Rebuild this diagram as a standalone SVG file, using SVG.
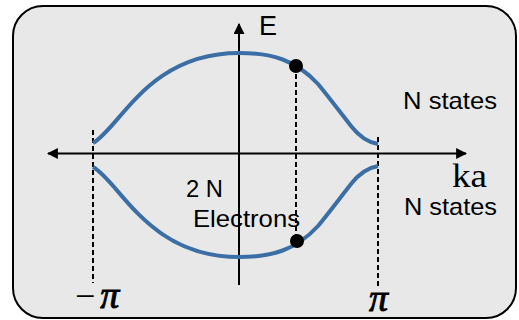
<svg xmlns="http://www.w3.org/2000/svg" width="519" height="320" viewBox="0 0 519 320">
<defs>
<marker id="arr" viewBox="0 0 10 10" refX="9" refY="5" markerWidth="11" markerHeight="11" markerUnits="userSpaceOnUse" orient="auto-start-reverse">
<path d="M0,0 L10,5 L0,10 Z" fill="#000"/>
</marker>
</defs>
<style>
.sans{font-family:"Liberation Sans",Arial,sans-serif;fill:#000}
.serif{font-family:"Liberation Serif","Times New Roman",serif;fill:#000}
.pi{font-style:italic;stroke:#000;stroke-width:0.9}
.band{fill:none;stroke:#3b6ea5;stroke-width:4}
.dash{stroke:#000;stroke-width:2;stroke-dasharray:5,3;fill:none}
.axis{stroke:#000;stroke-width:2;fill:none}
</style>
<rect x="13" y="6" width="503" height="312" rx="30" ry="30" fill="#e8e8e8" stroke="#000" stroke-width="2"/>
<g id="connectors">
<line class="axis" x1="48" y1="153.5" x2="466" y2="153.5" marker-start="url(#arr)" marker-end="url(#arr)"/>
<line class="axis" x1="239" y1="285" x2="239" y2="24" marker-end="url(#arr)"/>
<line class="dash" x1="93" y1="130" x2="93" y2="283"/>
<line class="dash" x1="378" y1="137" x2="378" y2="288"/>
<line class="dash" x1="296" y1="66" x2="296" y2="241"/>
</g>
<g id="upper-band">
<path class="band" d="M93,143 C120,128 148,53 239,53 C272,53 296,60 318,84 C328,96 340,112 351,126 C358,135 366,142 378,144"/>
</g>
<g id="lower-band">
<path class="band" d="M93,167 C120,182 148,257 239,257 C272,257 296,250 318,226 C328,214 340,198 351,184 C358,175 366,168 378,166"/>
</g>
<g id="dot-upper"><circle cx="296" cy="66" r="7" fill="#000"/></g>
<g id="dot-lower"><circle cx="297" cy="241" r="7" fill="#000"/></g>
<g id="label-E"><text class="sans" x="259" y="35" font-size="27">E</text></g>
<g id="label-ka"><text class="serif" x="452" y="187" font-size="34" textLength="35" lengthAdjust="spacingAndGlyphs">ka</text></g>
<g id="label-nstates-upper"><text class="sans" x="403" y="109" font-size="24" textLength="94" lengthAdjust="spacingAndGlyphs">N states</text></g>
<g id="label-nstates-lower"><text class="sans" x="404" y="215" font-size="24" textLength="93" lengthAdjust="spacingAndGlyphs">N states</text></g>
<g id="label-2N"><text class="sans" x="186" y="197" font-size="24" textLength="37" lengthAdjust="spacingAndGlyphs">2 N</text></g>
<g id="label-electrons"><text class="sans" x="193" y="227" font-size="24" textLength="107" lengthAdjust="spacingAndGlyphs">Electrons</text></g>
<g id="label-minus-pi"><text class="serif" x="75" y="308" font-size="36">−<tspan class="pi" dx="5" font-size="38">π</tspan></text></g>
<g id="label-pi"><text class="serif pi" x="369" y="311" font-size="38">π</text></g>
</svg>
